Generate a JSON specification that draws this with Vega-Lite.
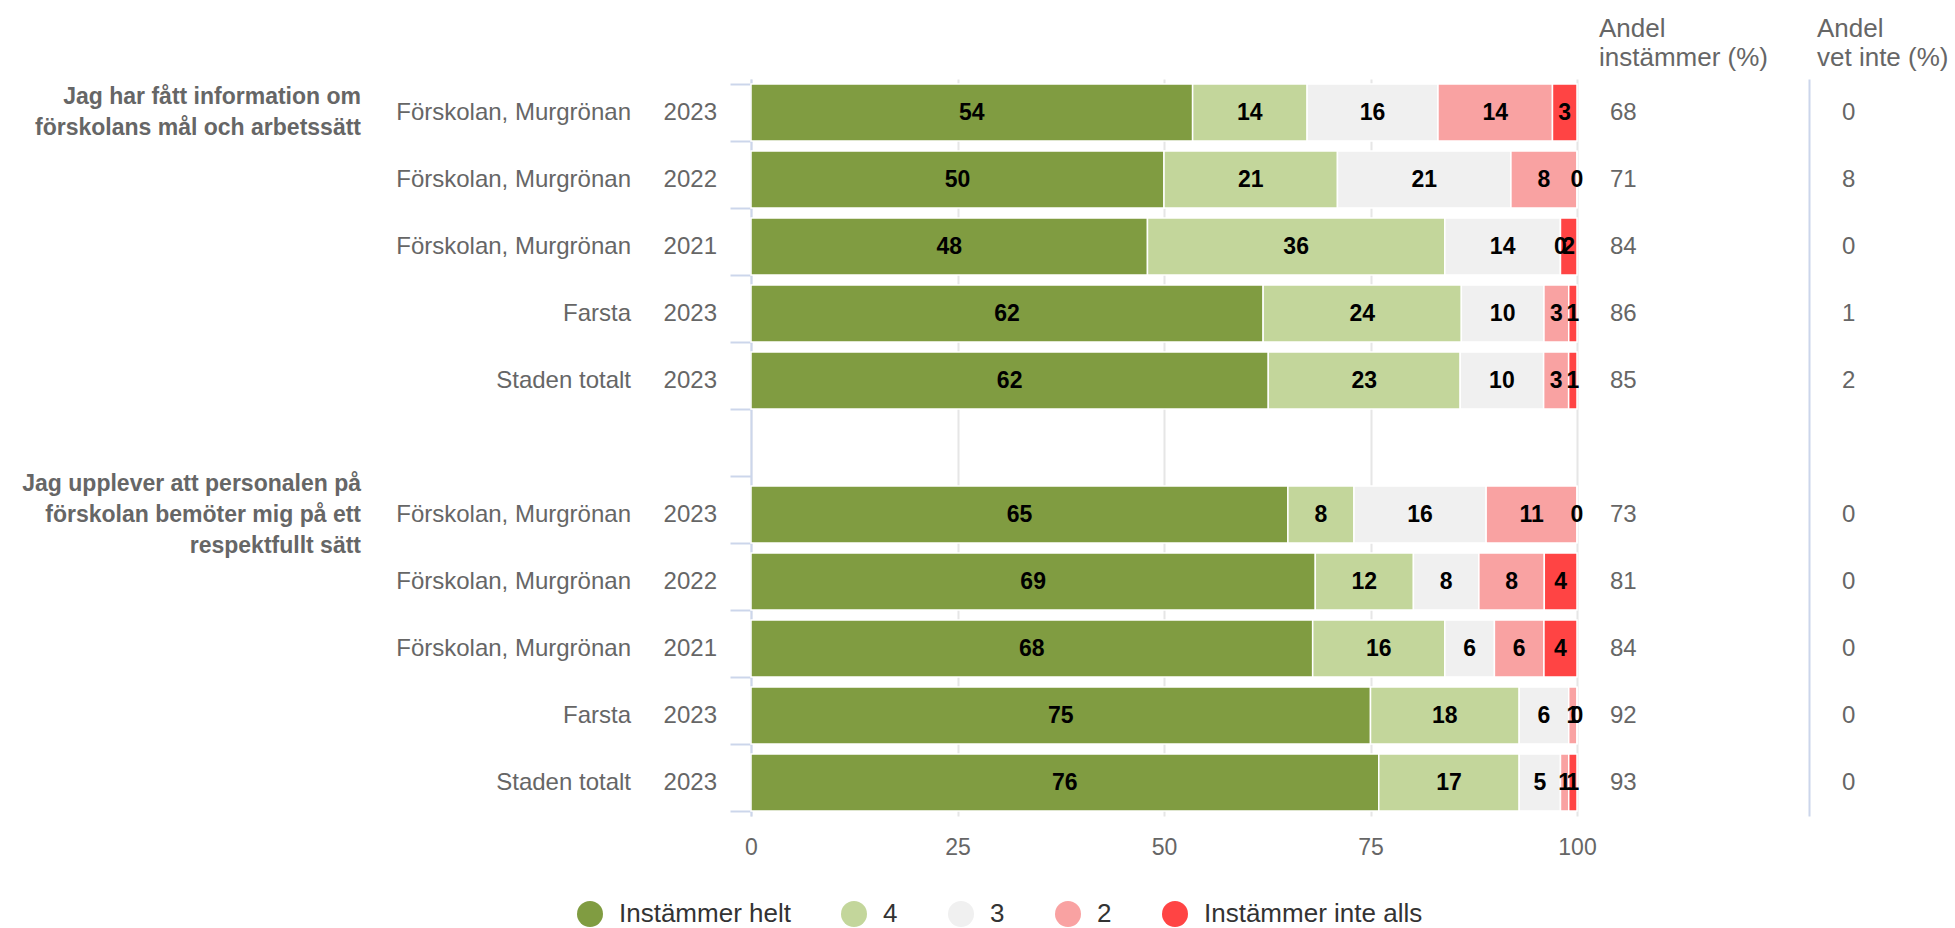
{
  "$schema": "https://vega.github.io/schema/vega-lite/v6.json",
  "padding": {"left": 0, "top": 15, "right": 0, "bottom": 0},
  "spacing": 0,
  "bounds": "flush",
  "config": {"font": "Liberation Sans", "view": {"stroke": null}},
  "resolve": {
    "scale": {"x": "independent", "y": "independent", "color": "independent"},
    "axis": {"x": "independent", "y": "independent"},
    "legend": {"color": "independent"}
  },
  "datasets": {
    "questions": [
      {"row": "q1_1", "question": "Jag har fått information om\nförskolans mål och arbetssätt"},
      {"row": "q2_1", "question": "Jag upplever att personalen på\nförskolan bemöter mig på ett\nrespektfullt sätt"}
    ],
    "rows": [
      {"row": "q1_1", "site": "Förskolan, Murgrönan", "year": "2023", "instammer": 68, "vetinte": 0},
      {"row": "q1_2", "site": "Förskolan, Murgrönan", "year": "2022", "instammer": 71, "vetinte": 8},
      {"row": "q1_3", "site": "Förskolan, Murgrönan", "year": "2021", "instammer": 84, "vetinte": 0},
      {"row": "q1_4", "site": "Farsta", "year": "2023", "instammer": 86, "vetinte": 1},
      {"row": "q1_5", "site": "Staden totalt", "year": "2023", "instammer": 85, "vetinte": 2},
      {"row": "q2_1", "site": "Förskolan, Murgrönan", "year": "2023", "instammer": 73, "vetinte": 0},
      {"row": "q2_2", "site": "Förskolan, Murgrönan", "year": "2022", "instammer": 81, "vetinte": 0},
      {"row": "q2_3", "site": "Förskolan, Murgrönan", "year": "2021", "instammer": 84, "vetinte": 0},
      {"row": "q2_4", "site": "Farsta", "year": "2023", "instammer": 92, "vetinte": 0},
      {"row": "q2_5", "site": "Staden totalt", "year": "2023", "instammer": 93, "vetinte": 0}
    ],
    "bars": [
      {"row": "q1_1", "level": 5, "svar": "Instämmer helt", "value": 54},
      {"row": "q1_1", "level": 4, "svar": "4", "value": 14},
      {"row": "q1_1", "level": 3, "svar": "3", "value": 16},
      {"row": "q1_1", "level": 2, "svar": "2", "value": 14},
      {"row": "q1_1", "level": 1, "svar": "Instämmer inte alls", "value": 3},
      {"row": "q1_2", "level": 5, "svar": "Instämmer helt", "value": 50},
      {"row": "q1_2", "level": 4, "svar": "4", "value": 21},
      {"row": "q1_2", "level": 3, "svar": "3", "value": 21},
      {"row": "q1_2", "level": 2, "svar": "2", "value": 8},
      {"row": "q1_2", "level": 1, "svar": "Instämmer inte alls", "value": 0},
      {"row": "q1_3", "level": 5, "svar": "Instämmer helt", "value": 48},
      {"row": "q1_3", "level": 4, "svar": "4", "value": 36},
      {"row": "q1_3", "level": 3, "svar": "3", "value": 14},
      {"row": "q1_3", "level": 2, "svar": "2", "value": 0},
      {"row": "q1_3", "level": 1, "svar": "Instämmer inte alls", "value": 2},
      {"row": "q1_4", "level": 5, "svar": "Instämmer helt", "value": 62},
      {"row": "q1_4", "level": 4, "svar": "4", "value": 24},
      {"row": "q1_4", "level": 3, "svar": "3", "value": 10},
      {"row": "q1_4", "level": 2, "svar": "2", "value": 3},
      {"row": "q1_4", "level": 1, "svar": "Instämmer inte alls", "value": 1},
      {"row": "q1_5", "level": 5, "svar": "Instämmer helt", "value": 62},
      {"row": "q1_5", "level": 4, "svar": "4", "value": 23},
      {"row": "q1_5", "level": 3, "svar": "3", "value": 10},
      {"row": "q1_5", "level": 2, "svar": "2", "value": 3},
      {"row": "q1_5", "level": 1, "svar": "Instämmer inte alls", "value": 1},
      {"row": "q2_1", "level": 5, "svar": "Instämmer helt", "value": 65},
      {"row": "q2_1", "level": 4, "svar": "4", "value": 8},
      {"row": "q2_1", "level": 3, "svar": "3", "value": 16},
      {"row": "q2_1", "level": 2, "svar": "2", "value": 11},
      {"row": "q2_1", "level": 1, "svar": "Instämmer inte alls", "value": 0},
      {"row": "q2_2", "level": 5, "svar": "Instämmer helt", "value": 69},
      {"row": "q2_2", "level": 4, "svar": "4", "value": 12},
      {"row": "q2_2", "level": 3, "svar": "3", "value": 8},
      {"row": "q2_2", "level": 2, "svar": "2", "value": 8},
      {"row": "q2_2", "level": 1, "svar": "Instämmer inte alls", "value": 4},
      {"row": "q2_3", "level": 5, "svar": "Instämmer helt", "value": 68},
      {"row": "q2_3", "level": 4, "svar": "4", "value": 16},
      {"row": "q2_3", "level": 3, "svar": "3", "value": 6},
      {"row": "q2_3", "level": 2, "svar": "2", "value": 6},
      {"row": "q2_3", "level": 1, "svar": "Instämmer inte alls", "value": 4},
      {"row": "q2_4", "level": 5, "svar": "Instämmer helt", "value": 75},
      {"row": "q2_4", "level": 4, "svar": "4", "value": 18},
      {"row": "q2_4", "level": 3, "svar": "3", "value": 6},
      {"row": "q2_4", "level": 2, "svar": "2", "value": 1},
      {"row": "q2_4", "level": 1, "svar": "Instämmer inte alls", "value": 0},
      {"row": "q2_5", "level": 5, "svar": "Instämmer helt", "value": 76},
      {"row": "q2_5", "level": 4, "svar": "4", "value": 17},
      {"row": "q2_5", "level": 3, "svar": "3", "value": 5},
      {"row": "q2_5", "level": 2, "svar": "2", "value": 1},
      {"row": "q2_5", "level": 1, "svar": "Instämmer inte alls", "value": 1}
    ]
  },
  "hconcat": [
    {
      "width": 361, "height": 737,
      "data": {"name": "questions"},
      "encoding": {
        "x": {"datum": 1, "type": "quantitative", "scale": {"domain": [0, 1]}, "axis": null},
        "y": {"field": "row", "type": "nominal", "axis": null, "scale": {"domain": ["q1_1","q1_2","q1_3","q1_4","q1_5","gap","q2_1","q2_2","q2_3","q2_4","q2_5"], "paddingInner": 0.15, "paddingOuter": 0.075}},
        "text": {"field": "question", "type": "nominal"}
      },
      "layer": [
        {
          "transform": [{"filter": "datum.row == 'q1_1'"}],
          "mark": {"type": "text", "align": "right", "baseline": "middle", "fontSize": 23, "fontWeight": "bold", "color": "#666666", "lineBreak": "\n", "lineHeight": 31, "dy": -15.5}
        },
        {
          "transform": [{"filter": "datum.row == 'q2_1'"}],
          "mark": {"type": "text", "align": "right", "baseline": "middle", "fontSize": 23, "fontWeight": "bold", "color": "#666666", "lineBreak": "\n", "lineHeight": 31, "dy": -31}
        }
      ]
    },
    {
      "width": 270, "height": 737,
      "data": {"name": "rows"},
      "mark": {"type": "text", "align": "right", "baseline": "middle", "fontSize": 24, "color": "#666666"},
      "encoding": {
        "x": {"datum": 1, "type": "quantitative", "scale": {"domain": [0, 1]}, "axis": null},
        "y": {"field": "row", "type": "nominal", "axis": null, "scale": {"domain": ["q1_1","q1_2","q1_3","q1_4","q1_5","gap","q2_1","q2_2","q2_3","q2_4","q2_5"], "paddingInner": 0.15, "paddingOuter": 0.075}},
        "text": {"field": "site", "type": "nominal"}
      }
    },
    {
      "width": 120, "height": 737,
      "data": {"name": "rows"},
      "mark": {"type": "text", "align": "right", "baseline": "middle", "fontSize": 24, "color": "#666666", "dx": -34},
      "encoding": {
        "x": {"datum": 1, "type": "quantitative", "scale": {"domain": [0, 1]}, "axis": null},
        "y": {"field": "row", "type": "nominal", "axis": null, "scale": {"domain": ["q1_1","q1_2","q1_3","q1_4","q1_5","gap","q2_1","q2_2","q2_3","q2_4","q2_5"], "paddingInner": 0.15, "paddingOuter": 0.075}},
        "text": {"field": "year", "type": "nominal"}
      }
    },
    {
      "width": 826, "height": 737,
      "data": {"name": "bars"},
      "transform": [
        {"stack": "value", "groupby": ["row"], "offset": "normalize", "sort": [{"field": "level", "order": "descending"}], "as": ["x0", "x1"]}
      ],
      "encoding": {
        "y": {"field": "row", "type": "nominal",
          "scale": {"domain": ["q1_1","q1_2","q1_3","q1_4","q1_5","gap","q2_1","q2_2","q2_3","q2_4","q2_5"], "paddingInner": 0.15, "paddingOuter": 0.075},
          "axis": {"title": null, "labels": false, "ticks": true, "tickSize": 21, "tickBand": "extent", "tickColor": "#ccd6eb", "tickWidth": 2, "domain": true, "domainColor": "#ccd6eb", "domainWidth": 2, "grid": false, "minExtent": 21, "maxExtent": 21}}
      },
      "layer": [
        {
          "mark": {"type": "bar", "stroke": "white", "strokeWidth": 1.5},
          "encoding": {
            "x": {"field": "x0", "type": "quantitative", "scale": {"domain": [0, 1], "nice": false, "zero": true},
              "axis": {"title": null, "values": [0, 0.25, 0.5, 0.75, 1], "labelExpr": "format(datum.value * 100, 'd')", "grid": true, "gridColor": "#e6e6e6", "gridWidth": 2, "domain": false, "ticks": false, "labelFontSize": 23, "labelColor": "#666666", "labelPadding": 20, "labelFlush": false}},
            "x2": {"field": "x1"},
            "color": {"field": "svar", "type": "nominal",
              "scale": {"domain": ["Instämmer helt", "4", "3", "2", "Instämmer inte alls"], "range": ["#809c41", "#c3d69b", "#f0f0f0", "#f9a2a2", "#ff4444"]},
              "legend": {"title": null, "orient": "none", "legendX": -174, "legendY": 822, "direction": "horizontal", "symbolType": "circle", "symbolSize": 676, "symbolStrokeWidth": 0, "labelFontSize": 26, "labelColor": "#333333", "labelOffset": 16, "labelLimit": 0, "columnPadding": 50}}
          }
        },
        {
          "transform": [
            {"fold": ["x0", "x1"], "as": ["edge", "pos"]},
            {"aggregate": [{"op": "mean", "field": "pos", "as": "mid"}, {"op": "max", "field": "value", "as": "value"}], "groupby": ["row", "level"]}
          ],
          "mark": {"type": "text", "fontSize": 23, "fontWeight": "bold", "color": "#000000", "baseline": "middle", "align": "center"},
          "encoding": {
            "x": {"field": "mid", "type": "quantitative"},
            "text": {"field": "value", "type": "quantitative"}
          }
        }
      ]
    },
    {
      "width": 232, "height": 737,
      "data": {"name": "rows"},
      "title": {"text": ["Andel", "instämmer (%)"], "anchor": "start", "fontSize": 26, "fontWeight": "normal", "color": "#666666", "lineHeight": 29, "dx": 22, "offset": 8.5},
      "mark": {"type": "text", "align": "left", "baseline": "middle", "fontSize": 24, "color": "#666666", "dx": 33},
      "encoding": {
        "x": {"datum": 0, "type": "quantitative", "scale": {"domain": [0, 1]}, "axis": null},
        "y": {"field": "row", "type": "nominal", "axis": null, "scale": {"domain": ["q1_1","q1_2","q1_3","q1_4","q1_5","gap","q2_1","q2_2","q2_3","q2_4","q2_5"], "paddingInner": 0.15, "paddingOuter": 0.075}},
        "text": {"field": "instammer", "type": "nominal"}
      }
    },
    {
      "width": 146, "height": 737,
      "data": {"name": "rows"},
      "title": {"text": ["Andel", "vet inte (%)"], "anchor": "start", "fontSize": 26, "fontWeight": "normal", "color": "#666666", "lineHeight": 29, "dx": 8, "offset": 8.5},
      "mark": {"type": "text", "align": "left", "baseline": "middle", "fontSize": 24, "color": "#666666", "dx": 33},
      "encoding": {
        "x": {"datum": 0, "type": "quantitative", "scale": {"domain": [0, 1]}, "axis": null},
        "y": {"field": "row", "type": "nominal", "scale": {"domain": ["q1_1","q1_2","q1_3","q1_4","q1_5","gap","q2_1","q2_2","q2_3","q2_4","q2_5"], "paddingInner": 0.15, "paddingOuter": 0.075},
          "axis": {"title": null, "labels": false, "ticks": false, "domain": true, "domainColor": "#ccd6eb", "domainWidth": 2, "grid": false, "minExtent": 0, "maxExtent": 0}},
        "text": {"field": "vetinte", "type": "nominal"}
      }
    }
  ]
}
